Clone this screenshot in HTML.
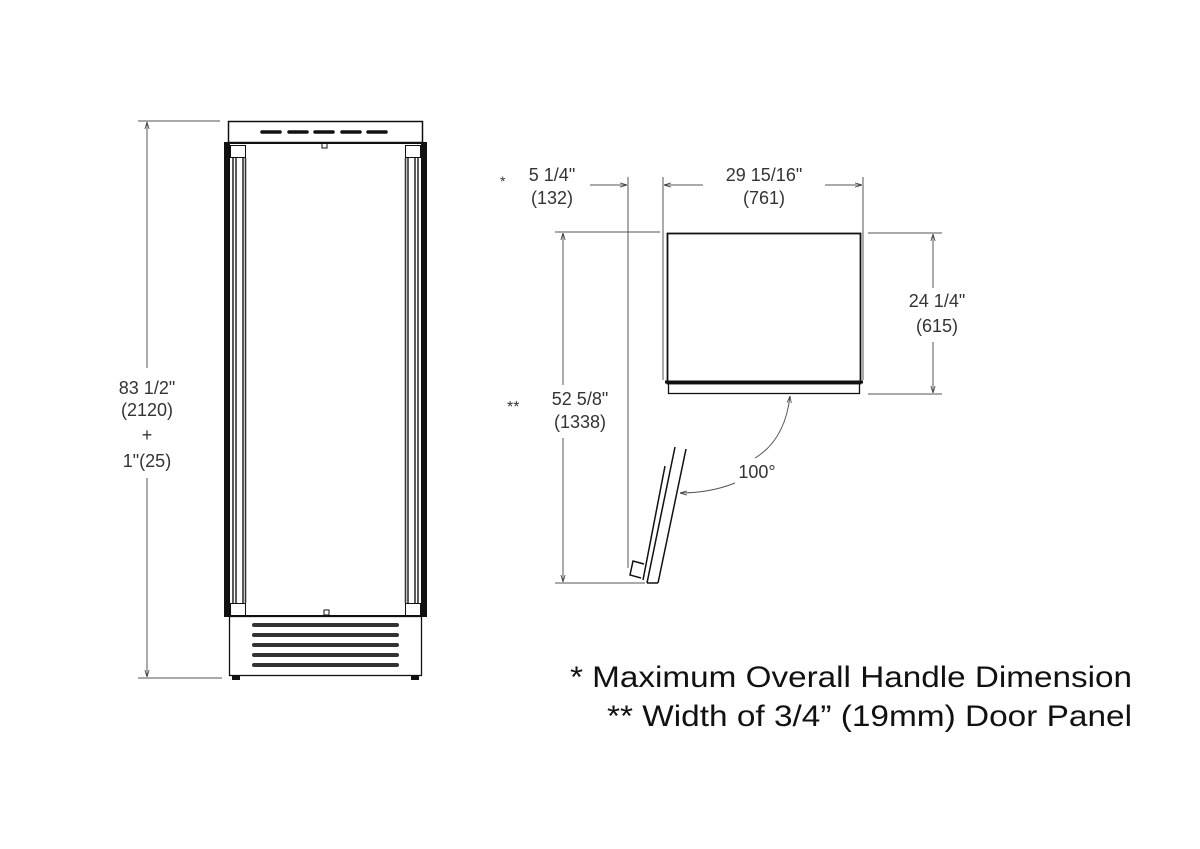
<!DOCTYPE html>
<html><head><meta charset="utf-8"><style>
html,body{margin:0;padding:0;background:#fff;}
svg{display:block;}
text{font-family:"Liberation Sans",sans-serif;fill:#333;}
</style></head><body>
<svg width="1200" height="849" viewBox="0 0 1200 849" xmlns="http://www.w3.org/2000/svg">
<defs>
<marker id="a" viewBox="0 0 10 10" refX="10" refY="5" markerWidth="7" markerHeight="7" orient="auto-start-reverse"><path d="M0,2 L10,5 L0,8" fill="none" stroke="#444" stroke-width="1.2"/></marker>
</defs>
<g stroke="#555" stroke-width="1" fill="none">
<line x1="138" y1="121" x2="220" y2="121"/>
<line x1="147" y1="122" x2="147" y2="368" marker-start="url(#a)"/>
<line x1="147" y1="478" x2="147" y2="677" marker-end="url(#a)"/>
<line x1="138" y1="678" x2="222" y2="678"/>
</g>
<g stroke="#111" fill="none">
<rect x="228.5" y="121.5" width="194" height="21" stroke-width="1.5"/>
<g stroke-width="3.5" stroke-linecap="round"><line x1="262" y1="132" x2="280" y2="132"/><line x1="289" y1="132" x2="307" y2="132"/><line x1="315" y1="132" x2="333" y2="132"/><line x1="342" y1="132" x2="360" y2="132"/><line x1="368" y1="132" x2="386" y2="132"/></g>
<rect x="224" y="142" width="6" height="475" fill="#111" stroke="none"/>
<rect x="421" y="142" width="6" height="475" fill="#111" stroke="none"/>
<line x1="230" y1="143" x2="421" y2="143" stroke-width="2"/>
<rect x="322" y="143" width="5" height="5" stroke-width="1"/>
<rect x="230.5" y="145.5" width="15" height="12" stroke-width="1"/>
<rect x="405.5" y="145.5" width="15" height="12" stroke-width="1"/>
<rect x="230.5" y="603.5" width="15" height="12" stroke-width="1"/>
<rect x="405.5" y="603.5" width="15" height="12" stroke-width="1"/>
<g stroke-width="1.6" stroke="#333">
<line x1="233" y1="158" x2="233" y2="603"/><line x1="236" y1="158" x2="236" y2="603"/><line x1="243" y1="158" x2="243" y2="603"/><line x1="245.5" y1="158" x2="245.5" y2="603"/>
<line x1="405.5" y1="158" x2="405.5" y2="603"/><line x1="408" y1="158" x2="408" y2="603"/><line x1="415" y1="158" x2="415" y2="603"/><line x1="418" y1="158" x2="418" y2="603"/>
</g>
<line x1="230" y1="616" x2="421" y2="616" stroke-width="2"/>
<rect x="324" y="610" width="5" height="5" stroke-width="1"/>
<rect x="229.5" y="616.5" width="192" height="59" stroke-width="1.3"/>
<g stroke-width="4" stroke="#333" stroke-linecap="round"><line x1="254" y1="625" x2="397" y2="625"/><line x1="254" y1="635" x2="397" y2="635"/><line x1="254" y1="645" x2="397" y2="645"/><line x1="254" y1="655" x2="397" y2="655"/><line x1="254" y1="665" x2="397" y2="665"/></g>
<rect x="232" y="676" width="8" height="4" fill="#111" stroke="none"/>
<rect x="411" y="676" width="8" height="4" fill="#111" stroke="none"/>
</g>
<text x="147" y="394" font-size="18" text-anchor="middle">83 1/2"</text>
<text x="147" y="416" font-size="18" text-anchor="middle">(2120)</text>
<text x="147" y="441" font-size="18" text-anchor="middle">+</text>
<text x="147" y="467" font-size="18" text-anchor="middle">1"(25)</text>
<g stroke="#555" stroke-width="1" fill="none">
<line x1="628" y1="177" x2="628" y2="568"/>
<line x1="663" y1="177" x2="663" y2="380"/>
<line x1="863" y1="177" x2="863" y2="380"/>
<line x1="590" y1="185" x2="627" y2="185" marker-end="url(#a)"/>
<line x1="664" y1="185" x2="703" y2="185" marker-start="url(#a)"/>
<line x1="825" y1="185" x2="862" y2="185" marker-end="url(#a)"/>
<line x1="555" y1="232" x2="660" y2="232"/>
<line x1="563" y1="233" x2="563" y2="385" marker-start="url(#a)"/>
<line x1="563" y1="438" x2="563" y2="582" marker-end="url(#a)"/>
<line x1="555" y1="583" x2="645" y2="583"/>
<line x1="868" y1="233" x2="942" y2="233"/>
<line x1="868" y1="394" x2="942" y2="394"/>
<line x1="933" y1="234" x2="933" y2="288" marker-start="url(#a)"/>
<line x1="933" y1="342" x2="933" y2="393" marker-end="url(#a)"/>
<path d="M790 396 Q785 440 755 458" marker-start="url(#a)"/>
<path d="M735 483 Q710 493 680 493" marker-end="url(#a)"/>
</g>
<g stroke="#111" fill="none">
<rect x="667.5" y="233.5" width="193" height="150" stroke-width="1.8"/>
<line x1="665" y1="382" x2="863" y2="382" stroke-width="3"/>
<rect x="668.5" y="383.5" width="191" height="10" stroke-width="1.3"/>
<g stroke-width="1.5">
<line x1="675" y1="447" x2="647" y2="583"/>
<line x1="686" y1="449" x2="658" y2="583"/>
<line x1="665" y1="466" x2="643" y2="580"/>
<line x1="647" y1="583" x2="658" y2="583"/>
<path d="M644 564 L633 561 L630 575 L641 578"/>
</g>
</g>
<text x="500" y="186" font-size="14">*</text>
<text x="552" y="181" font-size="18" text-anchor="middle">5 1/4"</text>
<text x="552" y="204" font-size="18" text-anchor="middle">(132)</text>
<text x="764" y="181" font-size="18" text-anchor="middle">29 15/16"</text>
<text x="764" y="204" font-size="18" text-anchor="middle">(761)</text>
<text x="937" y="307" font-size="18" text-anchor="middle">24 1/4"</text>
<text x="937" y="332" font-size="18" text-anchor="middle">(615)</text>
<text x="507" y="412" font-size="16">**</text>
<text x="580" y="405" font-size="18" text-anchor="middle">52 5/8"</text>
<text x="580" y="428" font-size="18" text-anchor="middle">(1338)</text>
<text x="757" y="478" font-size="18" text-anchor="middle">100°</text>
<text x="570" y="687" font-size="30" textLength="562" lengthAdjust="spacingAndGlyphs" style="fill:#111">* Maximum Overall Handle Dimension</text>
<text x="607" y="726" font-size="30" textLength="525" lengthAdjust="spacingAndGlyphs" style="fill:#111">** Width of 3/4” (19mm) Door Panel</text>
</svg>
</body></html>
